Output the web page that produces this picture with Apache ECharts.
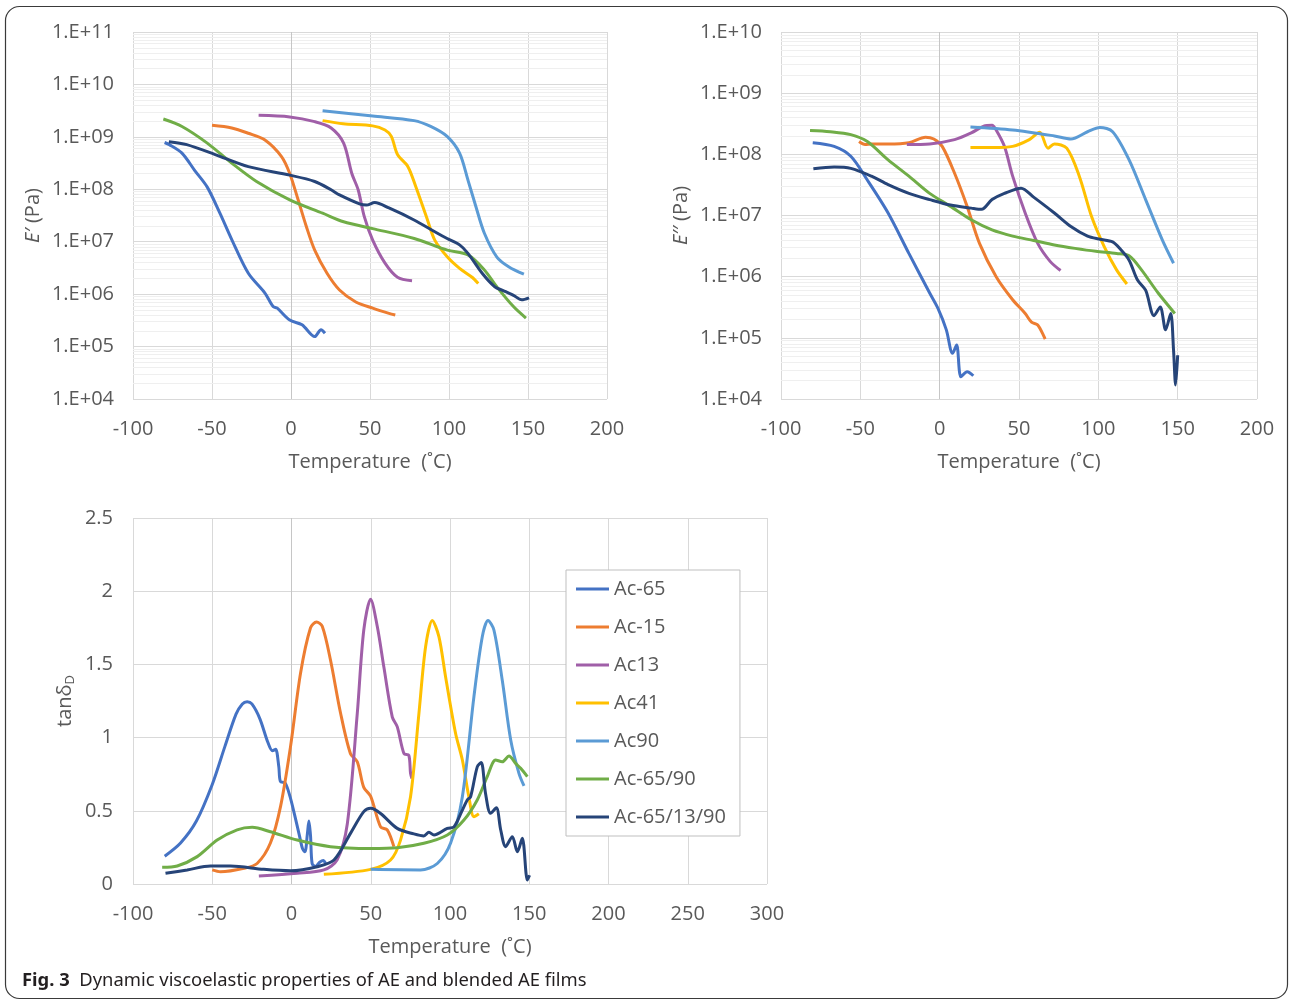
<!DOCTYPE html>
<html><head><meta charset="utf-8">
<script src="https://cdn.jsdelivr.net/npm/echarts@6/dist/echarts.min.js"></script>
<style>html,body{margin:0;padding:0;background:#fff}#c{width:1290px;height:1003px}</style>
</head><body><div id="c"></div>
<script>
// ---------- series names & colours ----------
const seriesNames = ['Ac-65','Ac-15','Ac13','Ac41','Ac90','Ac-65/90','Ac-65/13/90'];
const seriesColors = ['#4472C4','#ED7D31','#A05FA8','#FFC000','#5B9BD5','#70AD47','#264478'];

// ---------- axis ticks ----------
const tempTicksTop = [-100,-50,0,50,100,150,200];
const tempTicksBottom = [-100,-50,0,50,100,150,200,250,300];
const tanTicks = [0,0.5,1,1.5,2,2.5];

// ---------- E' (Pa) ----------
const ep_Ac65 = [[-80,7.8e8],[-77,7.1e8],[-69,4.9e8],[-61,2.3e8],[-53,1.1e8],[-45,3.5e7],[-37.5,1.1e7],[-27,2.5e6],[-16.5,1.05e6],[-11.3,5.8e5],[-8.7,5.4e5],[-0.8,3.2e5],[7,2.6e5],[15,1.55e5],[19,2.1e5],[21.5,1.8e5]];
const ep_Ac15 = [[-50,1.66e9],[-37.5,1.48e9],[-27,1.17e9],[-16.5,8.7e8],[-6,4.2e8],[-0.8,2.0e8],[4.5,6.3e7],[9.7,1.95e7],[15,6.9e6],[22.8,2.5e6],[30.7,1.2e6],[41,7.1e5],[51.7,5.4e5],[62,4.3e5],[66,4.0e5]];
const ep_Ac13 = [[-20.5,2.57e9],[-0.8,2.4e9],[15,1.95e9],[25.4,1.48e9],[33.3,7.6e8],[38.5,2.0e8],[42.5,9.8e7],[46.4,3.0e7],[51.7,1.07e7],[59.5,3.9e6],[67.4,2.1e6],[76.6,1.8e6]];
const ep_Ac41 = [[20,2.04e9],[33,1.78e9],[51.7,1.62e9],[59.5,1.35e9],[63.5,1.02e9],[67.4,4.6e8],[74,2.7e8],[79,1.12e8],[85.7,3.0e7],[91,1.07e7],[99,5.1e6],[106.7,3.1e6],[114.6,2.1e6],[118.5,1.6e6]];
const ep_Ac90 = [[20,3.16e9],[51.7,2.5e9],[77.9,2.04e9],[88.4,1.58e9],[98.8,1.02e9],[106.7,4.9e8],[112,1.5e8],[117,4.7e7],[122.4,1.45e7],[130.3,5.1e6],[138,3.3e6],[147.4,2.4e6]];
const ep_Ac65_90 = [[-80.8,2.19e9],[-69,1.58e9],[-53,7.6e8],[-37.5,3.16e8],[-21.8,1.41e8],[-0.8,6.3e7],[20,3.5e7],[33.3,2.4e7],[51.7,1.78e7],[78,1.15e7],[99,6.9e6],[112,5.6e6],[122.4,2.9e6],[130.3,1.38e6],[140.8,5.8e5],[148.7,3.5e5]];
const ep_Ac65_13_90 = [[-77.3,8.1e8],[-66,7.1e8],[-48,4.6e8],[-27,2.7e8],[-0.8,1.86e8],[15,1.41e8],[25.4,9.8e7],[30.7,7.8e7],[43.8,5.2e7],[47.7,5.0e7],[53,5.6e7],[62,4.4e7],[77.9,2.6e7],[91,1.55e7],[98.8,1.15e7],[106.7,8.7e6],[112,6.0e6],[121,2.5e6],[129,1.38e6],[134.3,1.17e6],[140.8,9.5e5],[146,7.8e5],[150.7,8.5e5]];

// ---------- E'' (Pa) ----------
const epp_Ac65 = [[-80,1.55e8],[-66.5,1.35e8],[-56,9.3e7],[-45.6,3.8e7],[-32.5,1.1e7],[-19.4,2.4e6],[-6.3,5.4e5],[-1,3.0e5],[4.2,1.35e5],[8.1,5.6e4],[10.7,7.6e4],[13.4,2.3e4],[17.3,2.8e4],[21.2,2.4e4]];
const epp_Ac15 = [[-50.8,1.62e8],[-47,1.45e8],[-43,1.48e8],[-32.5,1.48e8],[-19.4,1.55e8],[-8.9,1.9e8],[-3.7,1.78e8],[1.6,1.35e8],[9.4,4.9e7],[17.3,1.41e7],[25.1,3.5e6],[35.6,1.0e6],[46,4.2e5],[53.9,2.5e5],[57.9,1.8e5],[61.8,1.62e5],[66.5,9.5e4]];
const epp_Ac13 = [[-20.7,1.45e8],[-6.3,1.48e8],[9.4,1.74e8],[19.9,2.24e8],[27.8,2.9e8],[33,3.0e8],[35.6,2.5e8],[40.8,1.35e8],[46,4.4e7],[53.9,1.1e7],[61.8,3.5e6],[69.6,1.78e6],[76.2,1.26e6]];
const epp_Ac41 = [[19.4,1.29e8],[33,1.29e8],[46,1.35e8],[56.5,1.74e8],[63,2.3e8],[68.3,1.26e8],[72.3,1.48e8],[80.1,1.26e8],[88,4.4e7],[95.8,9.5e6],[103.7,3.1e6],[111.5,1.29e6],[118,7.6e5]];
const epp_Ac90 = [[19.4,2.8e8],[46,2.5e8],[72.3,2.0e8],[82.7,1.78e8],[93.2,2.34e8],[101,2.75e8],[109,2.34e8],[119.4,8.1e7],[129.8,1.82e7],[140.3,4.0e6],[147.4,1.66e6]];
const epp_Ac65_90 = [[-81.7,2.45e8],[-69,2.34e8],[-56,2.1e8],[-45.6,1.62e8],[-32.5,8.1e7],[-19.4,4.4e7],[-6.3,2.3e7],[6.8,1.41e7],[19.9,8.5e6],[33,5.8e6],[46,4.6e6],[59.2,3.9e6],[72.3,3.3e6],[85.3,2.9e6],[98.4,2.6e6],[111.5,2.4e6],[119.4,2.2e6],[127.2,1.29e6],[137.7,5.4e5],[148.2,2.5e5]];
const epp_Ac65_13_90 = [[-79.6,5.8e7],[-66.5,6.2e7],[-56,5.9e7],[-43,4.4e7],[-32.5,3.2e7],[-19.4,2.3e7],[-6.3,1.82e7],[6.8,1.48e7],[19.9,1.32e7],[26.4,1.26e7],[33,1.82e7],[40.8,2.3e7],[51.3,2.8e7],[59.2,2.0e7],[72.3,1.1e7],[82.7,6.6e6],[93.2,4.6e6],[101,4.1e6],[109,3.7e6],[114.2,2.75e6],[119.4,1.86e6],[124.6,8.9e5],[129.8,6.0e5],[135.1,2.3e5],[139,3.2e5],[142.4,1.35e5],[145.6,2.5e5],[147.4,6.3e4],[148.7,1.7e4],[150,5.2e4]];

// ---------- tan delta ----------
const tan_Ac65 = [[-80,0.19],[-70,0.28],[-60,0.43],[-50,0.68],[-42,0.94],[-35,1.16],[-31,1.23],[-28,1.245],[-25,1.23],[-20,1.13],[-15,0.97],[-12,0.91],[-10,0.92],[-8,0.80],[-7,0.70],[-4,0.69],[-1,0.60],[2,0.47],[5,0.33],[7,0.24],[8.5,0.22],[10,0.34],[11,0.43],[12,0.33],[13,0.14],[15,0.12],[18,0.15],[20,0.16],[21.5,0.14]];
const tan_Ac15 = [[-50,0.096],[-44.8,0.083],[-30,0.107],[-21.7,0.14],[-13.3,0.28],[-6.9,0.53],[-0.6,0.94],[5.7,1.44],[12,1.75],[15.8,1.79],[19.4,1.76],[24.6,1.53],[30.9,1.17],[37.2,0.89],[41.5,0.835],[45.6,0.66],[49.9,0.60],[56.2,0.39],[60.4,0.37],[64.6,0.255]];
const tan_Ac13 = [[-20.6,0.055],[3.6,0.073],[20.4,0.096],[28.8,0.165],[35.2,0.41],[41.5,1.165],[45.6,1.735],[49.9,1.945],[54.1,1.76],[58.3,1.48],[63.6,1.14],[66.7,1.075],[71,0.89],[74,0.88],[75.1,0.756],[76,0.72]];
const tan_Ac41 = [[20.4,0.066],[49.9,0.10],[62.5,0.164],[68.8,0.30],[75.1,0.596],[80.4,1.165],[84.6,1.62],[88.8,1.80],[93,1.69],[97.2,1.416],[103.5,1.03],[107.8,0.847],[111.9,0.596],[115.1,0.46],[118.2,0.48]];
const tan_Ac90 = [[49.9,0.10],[81.4,0.096],[92,0.14],[100.4,0.28],[107.8,0.596],[115.1,1.28],[120.4,1.69],[124,1.80],[127.7,1.735],[133,1.39],[138.3,0.984],[143.5,0.756],[146.7,0.67]];
const tan_Ac65_90 = [[-81.6,0.114],[-72.1,0.123],[-59.5,0.187],[-46.9,0.30],[-34.3,0.37],[-24.8,0.387],[-13.3,0.357],[3.6,0.30],[24.6,0.255],[49.9,0.243],[66.7,0.248],[83.5,0.278],[98.3,0.335],[108.8,0.437],[117.2,0.574],[123.5,0.733],[128.8,0.847],[133,0.835],[137.2,0.874],[141.4,0.824],[144.6,0.79],[148.8,0.733]];
const tan_Ac65_13_90 = [[-79.5,0.073],[-65.8,0.096],[-51.1,0.123],[-38.5,0.123],[-17.5,0.10],[-0.6,0.09],[16.2,0.118],[26.8,0.164],[37.2,0.346],[45.6,0.494],[49.9,0.517],[56.2,0.482],[66.7,0.38],[77.2,0.342],[83.5,0.328],[86.7,0.353],[89.9,0.335],[98.3,0.38],[102.5,0.39],[107.8,0.505],[110.9,0.574],[113,0.596],[117.2,0.80],[119.7,0.83],[122.4,0.62],[125.6,0.483],[129.2,0.52],[132,0.369],[135.1,0.255],[139.3,0.323],[142.5,0.22],[145.6,0.312],[148.8,0.027],[150.2,0.06]];

const ePrimeSets = [ep_Ac65, ep_Ac15, ep_Ac13, ep_Ac41, ep_Ac90, ep_Ac65_90, ep_Ac65_13_90];
const eDoubleSets = [epp_Ac65, epp_Ac15, epp_Ac13, epp_Ac41, epp_Ac90, epp_Ac65_90, epp_Ac65_13_90];
const tanSets = [tan_Ac65, tan_Ac15, tan_Ac13, tan_Ac41, tan_Ac90, tan_Ac65_90, tan_Ac65_13_90];

// ---------- build chart ----------
const FONT = 'Open Sans';
const LABEL_COLOR = '#595959';
const GRID_COLOR = '#d9d9d9';
const MINOR_COLOR = '#efefef';

function minorLogLines(minExp, maxExp) {
  const d = [];
  for (let e = minExp; e < maxExp; e++) for (let k = 2; k <= 9; k++) d.push({ yAxis: k * Math.pow(10, e) });
  return d;
}
const logLabel = v => '1.E+' + String(Math.round(Math.log10(v))).padStart(2, '0');

function tempAxis(gridIndex, ticks) {
  return {
    type: 'value', gridIndex, min: ticks[0], max: ticks[ticks.length - 1], interval: 50,
    axisLine: { show: false }, axisTick: { show: false },
    axisLabel: { color: LABEL_COLOR, fontFamily: FONT, fontSize: 20, margin: 20 },
    splitLine: { show: true, lineStyle: { color: GRID_COLOR, width: 1 } },
    name: 'Temperature  (˚C)', nameLocation: 'middle', nameGap: 53,
    nameTextStyle: { color: LABEL_COLOR, fontFamily: FONT, fontSize: 20 }
  };
}
function logAxis(gridIndex, minExp, maxExp, nameRich) {
  return {
    type: 'log', logBase: 10, gridIndex, min: Math.pow(10, minExp), max: Math.pow(10, maxExp), interval: 1,
    axisLine: { show: false }, axisTick: { show: false },
    axisLabel: { color: LABEL_COLOR, fontFamily: FONT, fontSize: 20, margin: 19, formatter: logLabel },
    splitLine: { show: true, lineStyle: { color: GRID_COLOR, width: 1 } },
    name: nameRich, nameLocation: 'middle', nameGap: 90,
    nameTextStyle: { color: LABEL_COLOR, fontFamily: FONT, fontSize: 20,
      rich: { i: { fontStyle: 'italic', fontFamily: FONT, fontSize: 20, color: LABEL_COLOR } } }
  };
}

const series = [];
function guideSeries(gridIndex, minorData) {
  series.push({
    type: 'line', xAxisIndex: gridIndex, yAxisIndex: gridIndex, data: [], z: 1, zlevel: 0, silent: true,
    markLine: { silent: true, symbol: 'none', label: { show: false }, animation: false, z: 1,
      emphasis: { disabled: true },
      lineStyle: { color: MINOR_COLOR, width: 1, type: 'solid' },
      data: minorData.concat([{ xAxis: 0, lineStyle: { color: '#c6c6c6', width: 1, type: 'solid' } }]) }
  });
}
guideSeries(0, minorLogLines(4, 11));
guideSeries(1, minorLogLines(4, 10));
guideSeries(2, []);

function addCurves(gridIndex, sets) {
  sets.forEach((d, i) => {
    series.push({
      name: seriesNames[i], type: 'line', xAxisIndex: gridIndex, yAxisIndex: gridIndex,
      data: d, showSymbol: false, symbol: 'none', smooth: 0.3, z: 10,
      lineStyle: { color: seriesColors[i], width: 3 }, itemStyle: { color: seriesColors[i] },
      emphasis: { disabled: true }
    });
  });
}
addCurves(0, ePrimeSets);
addCurves(1, eDoubleSets);
addCurves(2, tanSets);

const option = {
  animation: false,
  backgroundColor: '#ffffff',
  grid: [
    { left: 133, top: 32, width: 474, height: 367 },
    { left: 781, top: 32, width: 476, height: 367 },
    { left: 133, top: 518, width: 634, height: 366 }
  ],
  xAxis: [tempAxis(0, tempTicksTop), tempAxis(1, tempTicksTop), tempAxis(2, tempTicksBottom)],
  yAxis: [
    logAxis(0, 4, 11, '{i|E′} (Pa)'),
    logAxis(1, 4, 10, '{i|E′′} (Pa)'),
    {
      type: 'value', gridIndex: 2, min: tanTicks[0], max: tanTicks[tanTicks.length - 1], interval: 0.5,
      axisLine: { show: false }, axisTick: { show: false },
      axisLabel: { color: LABEL_COLOR, fontFamily: FONT, fontSize: 20, margin: 20 },
      splitLine: { show: true, lineStyle: { color: GRID_COLOR, width: 1 } },
      name: '{a|tanδ}{s|D}', nameLocation: 'middle', nameGap: 56,
      nameTextStyle: { color: LABEL_COLOR, fontFamily: FONT, fontSize: 20,
        rich: { a: { fontFamily: FONT, fontSize: 20, color: LABEL_COLOR },
                s: { fontFamily: FONT, fontSize: 13, color: LABEL_COLOR, padding: [10, 0, 0, 0] } } }
    }
  ],
  legend: {
    data: seriesNames, orient: 'vertical', left: 566, top: 570,
    padding: [9, 14, 9, 10], itemGap: 18, itemWidth: 33, itemHeight: 3, itemTextGap: 2,
    icon: 'rect', borderColor: '#bfbfbf', borderWidth: 1, backgroundColor: '#ffffff',
    textStyle: { color: LABEL_COLOR, fontFamily: FONT, fontSize: 20, lineHeight: 20 },
    selectedMode: false
  },
  graphic: [
    { type: 'rect', silent: true, z: 100,
      shape: { x: 5.5, y: 6.5, width: 1282, height: 992, r: 14 },
      style: { fill: 'none', stroke: '#3a3a3a', lineWidth: 1.2 } },
    { type: 'text', left: 22, top: 972, z: 100,
      style: { text: '{b|Fig. 3}  Dynamic viscoelastic properties of AE and blended AE films',
        fontFamily: 'Noto Sans', fontSize: 18.4, fill: '#231f20',
        rich: { b: { fontFamily: 'Noto Sans', fontSize: 18.4, fontWeight: 'bold', fill: '#231f20' } } } }
  ],
  series
};

const chart = echarts.init(document.getElementById('c'), null, { renderer: 'canvas' });
chart.setOption(option);
</script>
</body></html>
